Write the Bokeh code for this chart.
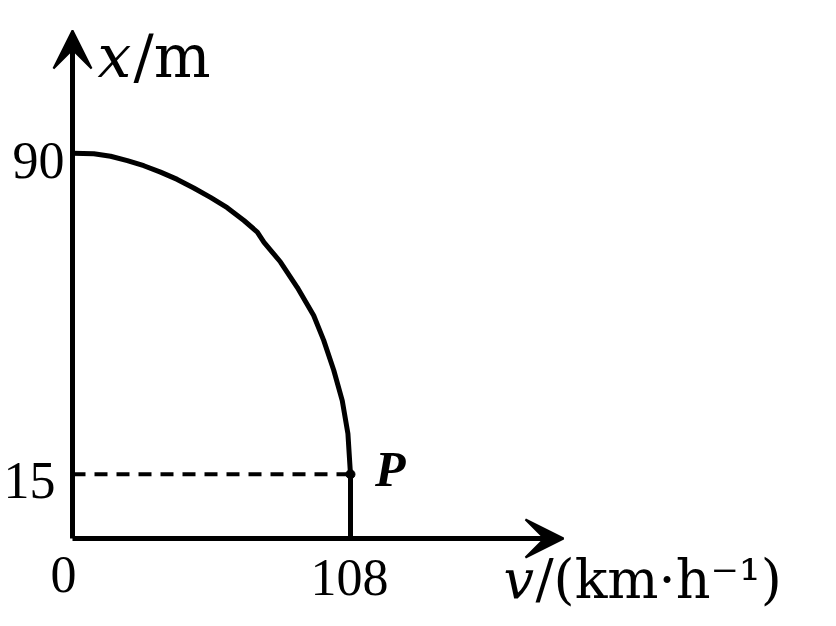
from bokeh.plotting import figure
from bokeh.models import Arrow, VeeHead, Range1d
from bokeh.core.properties import value
from bokeh.embed import file_html
from bokeh.resources import INLINE

# data
curve_v = [0, 8.3, 14.8, 21.3, 27.7, 34.2, 40.7, 47.1, 53.6, 60.1, 66.6, 71.8,
           74.4, 80.8, 87.3, 93.7, 97.6, 101.5, 104.8, 107.0, 108.0]
curve_x = [90, 89.9, 89.3, 88.3, 87.1, 85.6, 83.9, 81.9, 79.7, 77.3, 74.3, 71.6,
           69.2, 64.6, 58.7, 52.1, 46.3, 39.3, 32.2, 24.5, 15.0]
p_v = 108
p_x = 15
x_ticks = [0, 108]
x_tick_labels = ["0", "108"]
y_ticks = [15, 90]
y_tick_labels = ["15", "90"]

W, H = 820, 610
sx, sy = 2.574, 4.28  # px per unit
ox, oy = 72, 538     # origin in frame px (from left, from top)

p = figure(width=W, height=H, output_backend="svg", toolbar_location=None,
           x_range=Range1d(-ox / sx, (W - ox) / sx),
           y_range=Range1d(-(H - oy) / sy, oy / sy),
           min_border=0)
p.axis.visible = False
p.grid.visible = False
p.outline_line_color = None
p.background_fill_color = "white"

# axes with arrows
v_tip = (563 - ox) / sx
x_tip = (oy - 30) / sy
p.add_layout(Arrow(end=VeeHead(size=38, fill_color="black", line_color="black", line_width=2),
                   x_start=0, y_start=0, x_end=v_tip, y_end=0,
                   line_width=5, line_color="black"))
p.add_layout(Arrow(end=VeeHead(size=38, fill_color="black", line_color="black", line_width=2),
                   x_start=0, y_start=0, x_end=0, y_end=x_tip,
                   line_width=5, line_color="black"))

# curve and vertical drop
p.line(curve_v, curve_x, line_width=5, line_color="black", line_join="round")
p.line([p_v, p_v], [p_x, 0], line_width=5, line_color="black")
# dashed line
p.line([0, p_v], [p_x, p_x], line_width=4, line_color="black", line_dash="13 9")
p.scatter([p_v], [p_x], size=9, color="black")

num_font = value("Liberation Serif")
lab_font = value("DejaVu Serif")

# tick labels
p.text(x=[-3.1], y=[y_ticks[1] - 1.6], text=[y_tick_labels[1]], text_font=num_font,
       text_font_size="52px", text_align="right", text_baseline="middle", text_color="black")
p.text(x=[-6.6], y=[y_ticks[0] - 1.5], text=[y_tick_labels[0]], text_font=num_font,
       text_font_size="52px", text_align="right", text_baseline="middle", text_color="black")
p.text(x=[x_ticks[0] - 3.5], y=[-8.5], text=[x_tick_labels[0]], text_font=num_font,
       text_font_size="52px", text_align="center", text_baseline="middle", text_color="black")
p.text(x=[x_ticks[1] - 0.4], y=[-9.1], text=[x_tick_labels[1]], text_font=num_font,
       text_font_size="52px", text_align="center", text_baseline="middle", text_color="black")

# P label
p.text(x=[p_v + 9.5], y=[p_x + 1.2], text=["P"], text_font=num_font, text_font_size="50px",
       text_font_style="bold italic", text_align="left", text_baseline="middle", text_color="black")

# axis titles
ty = (oy - 55) / sy
p.text(x=[9.7], y=[ty], text=["x"], text_font=lab_font, text_font_size="60px",
       text_font_style="italic", text_align="left", text_baseline="middle", text_color="black")
p.text(x=[9.7 + 36 / sx], y=[ty], text=["/m"], text_font=lab_font, text_font_size="60px",
       text_align="left", text_baseline="middle", text_color="black")
vy = (oy - 579) / sy
p.text(x=[167.4], y=[vy], text=["v"], text_font=lab_font, text_font_size="54px",
       text_font_style="italic", text_align="left", text_baseline="middle", text_color="black")
p.text(x=[167.4 + 32 / sx], y=[vy], text=["/(km·h⁻¹)"], text_font=lab_font, text_font_size="54px",
       text_align="left", text_baseline="middle", text_color="black")

open("out.html", "w").write(file_html(p, INLINE))
